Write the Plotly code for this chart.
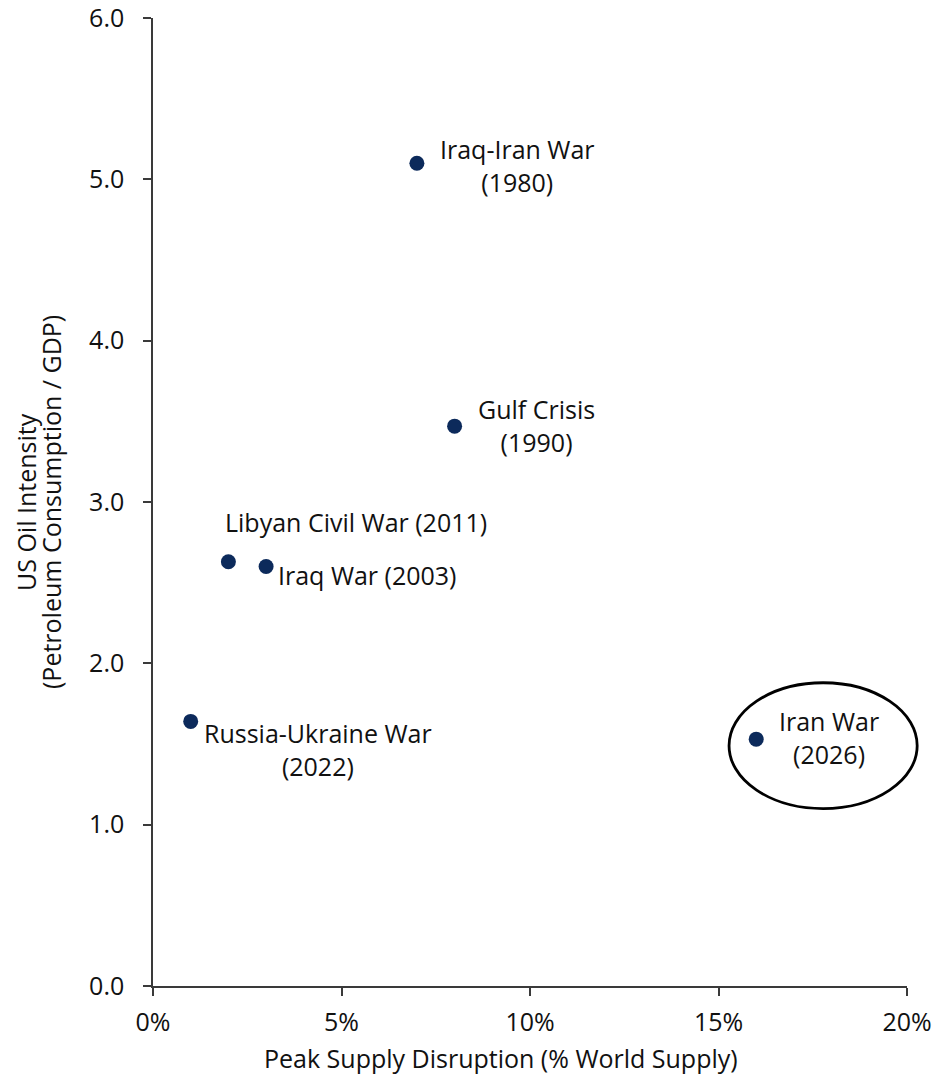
import plotly.graph_objects as go

# Oil supply shocks: peak disruption (% of world supply) vs. US oil intensity
events = ["Iraq-Iran War<br>(1980)", "Gulf Crisis<br>(1990)", "Libyan Civil War (2011)",
          "Iraq War (2003)", "Russia-Ukraine War<br>(2022)", "Iran War<br>(2026)"]
disruption_pct = [7.0, 8.0, 2.0, 3.0, 1.0, 16.0]
oil_intensity = [5.10, 3.47, 2.63, 2.60, 1.64, 1.53]

# label offsets in pixels (x, y) and alignment per event
label_shift = [(21, -2), (21, 1), (-5, 40), (10, -8), (11, -28), (21, 2)]
label_align = ["center", "center", "left", "left", "center", "center"]

x_ticks = [0, 5, 10, 15, 20]
x_tick_text = ["0%", "5%", "10%", "15%", "20%"]
y_ticks = [0, 1, 2, 3, 4, 5, 6]
y_tick_text = ["0.0", "1.0", "2.0", "3.0", "4.0", "5.0", "6.0"]

y_title_lines = ["US Oil Intensity", "(Petroleum Consumption / GDP)"]
x_title = "Peak Supply Disruption (% World Supply)"

FONT = "Open Sans"
FSIZE = 25
TXT = "#111111"
MARKER = "#0c2a5b"
AXIS = "#3a3a3a"

fig = go.Figure(go.Scatter(
    x=disruption_pct, y=oil_intensity, mode="markers",
    marker=dict(size=15, color=MARKER),
    hoverinfo="skip", showlegend=False,
))

for name, xv, yv, (dx, dy), al in zip(events, disruption_pct, oil_intensity,
                                      label_shift, label_align):
    fig.add_annotation(
        x=xv, y=yv, text=name, showarrow=False,
        xanchor="left", yanchor="middle", align=al,
        xshift=dx, yshift=dy,
        font=dict(family=FONT, size=FSIZE, color=TXT),
    )

# highlight ring around the latest event (paper coords so it is not clipped)
fig.add_shape(type="circle", xref="paper", yref="paper",
              x0=0.764, x1=1.0135, y0=0.1833, y1=0.3133,
              line=dict(color="#000000", width=2.8))

# axis titles
fig.add_annotation(
    x=0.4615, y=0, xref="paper", yref="paper", yshift=-72,
    xanchor="center", yanchor="middle", showarrow=False,
    text=x_title, font=dict(family=FONT, size=FSIZE, color=TXT),
)
for line, shift in zip(y_title_lines, [-127, -102]):
    fig.add_annotation(
        x=0, y=0.5, xref="paper", yref="paper", xshift=shift,
        xanchor="center", yanchor="middle", showarrow=False, textangle=-90,
        text=line, font=dict(family=FONT, size=FSIZE, color=TXT),
    )

common = dict(
    showgrid=False, zeroline=False, showline=True, linecolor=AXIS, linewidth=1.5,
    ticks="outside", ticklen=8, tickcolor=AXIS, tickwidth=1.5,
    tickfont=dict(family=FONT, size=FSIZE, color=TXT), automargin=False,
    ticklabeloverflow="allow",
)
fig.update_xaxes(range=[0, 20], tickvals=x_ticks, ticktext=x_tick_text,
                 ticklabelstandoff=5, **common)
fig.update_yaxes(range=[0, 6], tickvals=y_ticks, ticktext=y_tick_text,
                 ticklabelstandoff=14, **common)

fig.update_layout(
    width=936, height=1074,
    margin=dict(l=153, r=29, t=18, b=88),
    paper_bgcolor="white", plot_bgcolor="white",
)

fig.write_html("out.html")
